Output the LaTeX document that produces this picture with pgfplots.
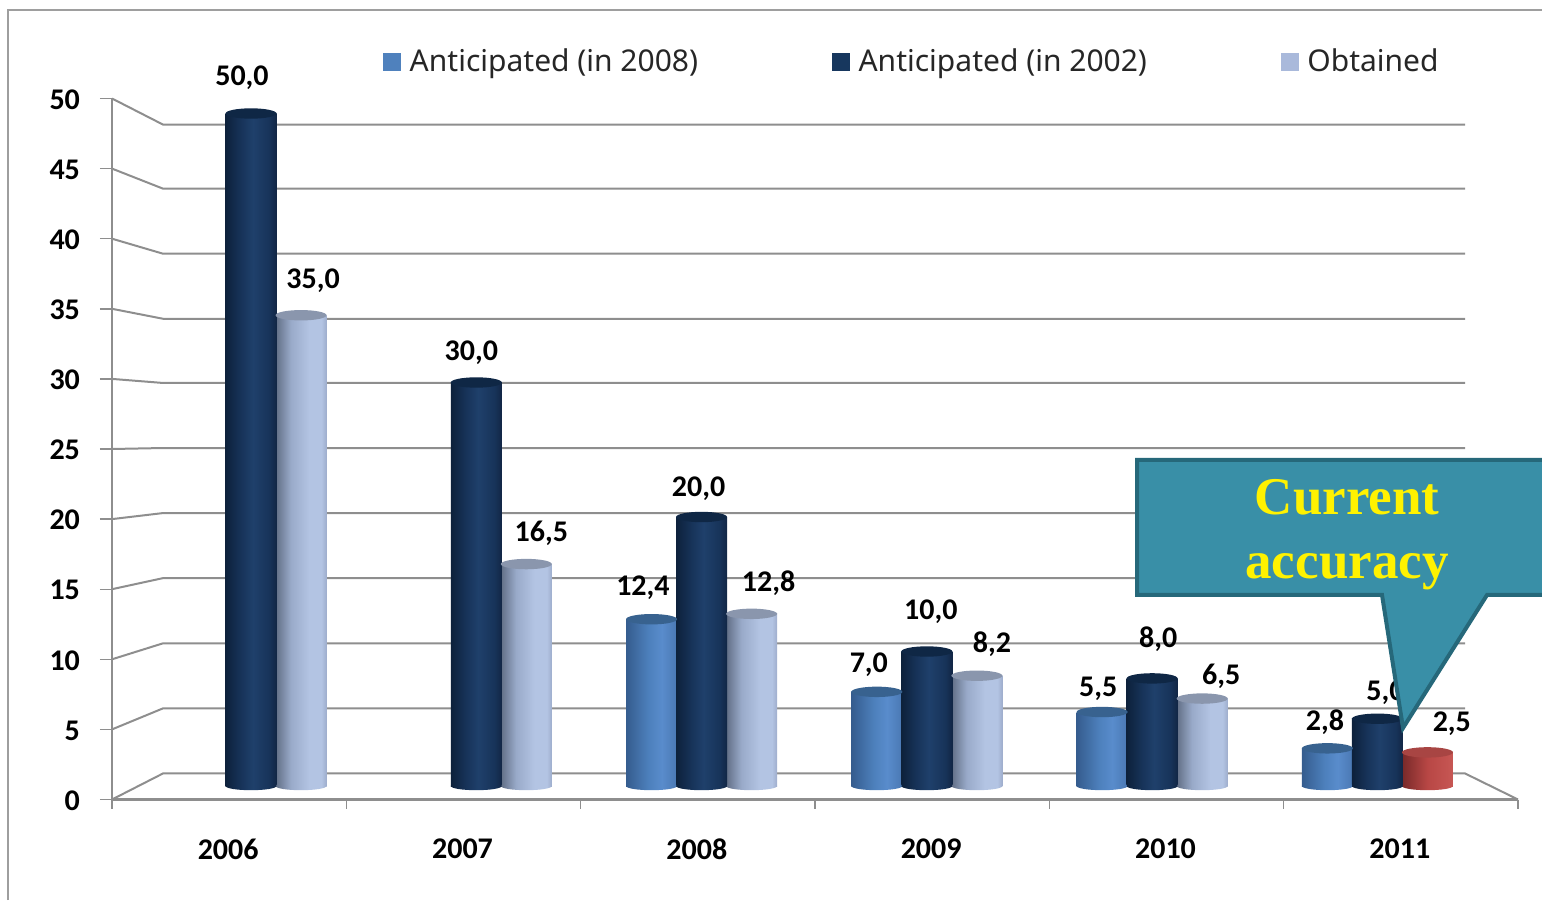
\documentclass[border=0pt]{standalone}
\usepackage{pgfplots}
\usepackage{pgfplotstable}
\usepackage{fontspec}
\pgfplotsset{compat=1.18}
\setmainfont{Carlito}
\newfontfamily\legfont{Noto Sans}
\newfontfamily\callfont{Liberation Serif}

\definecolor{gridc}{HTML}{8E8E8E}
\definecolor{legA}{HTML}{4F81BD}
\definecolor{legB}{HTML}{17375E}
\definecolor{legC}{HTML}{A9B9DB}

\definecolor{a1}{HTML}{355C8E}
\definecolor{a2}{HTML}{4D80BC}
\definecolor{a3}{HTML}{598CCC}
\definecolor{a4}{HTML}{4A78B3}
\definecolor{b1}{HTML}{0D213B}
\definecolor{b2}{HTML}{173359}
\definecolor{b3}{HTML}{1F406B}
\definecolor{b4}{HTML}{122645}
\definecolor{c1}{HTML}{616E85}
\definecolor{c2}{HTML}{99AAC9}
\definecolor{c3}{HTML}{B3C4E3}
\definecolor{c4}{HTML}{9EADCC}
\definecolor{r1}{HTML}{782929}
\definecolor{r2}{HTML}{B84745}
\definecolor{r3}{HTML}{C75754}

\pgfdeclarehorizontalshading{sA}{100bp}{color(0bp)=(a1); color(25bp)=(a1); color(47bp)=(a2); color(60bp)=(a3); color(75bp)=(a4); color(100bp)=(a4)}
\pgfdeclarehorizontalshading{sB}{100bp}{color(0bp)=(b1); color(25bp)=(b1); color(40bp)=(b2); color(52bp)=(b3); color(68bp)=(b2); color(75bp)=(b4); color(100bp)=(b4)}
\pgfdeclarehorizontalshading{sC}{100bp}{color(0bp)=(c1); color(25bp)=(c1); color(40bp)=(c2); color(58bp)=(c3); color(70bp)=(c3); color(75bp)=(c4); color(100bp)=(c4)}
\pgfdeclarehorizontalshading{sR}{100bp}{color(0bp)=(r1); color(25bp)=(r1); color(50bp)=(r2); color(75bp)=(r3); color(100bp)=(r3)}

\definecolor{capA}{HTML}{38628F}
\definecolor{capB}{HTML}{0F2745}
\definecolor{capC}{HTML}{8A96AD}
\definecolor{capR}{HTML}{A84543}

\newcommand\topcap[1]{\pgfsetfillcolor{#1}\pgfpathellipse{\pgfpointorigin}{\pgfqpoint{12.75pt}{0pt}}{\pgfqpoint{0pt}{2.6pt}}\pgfusepathqfill}
\pgfdeclareplotmark{topA}{\topcap{capA}}
\pgfdeclareplotmark{topB}{\topcap{capB}}
\pgfdeclareplotmark{topC}{\topcap{capC}}
\pgfdeclareplotmark{topR}{\topcap{capR}}
\pgfdeclareplotmark{botA}{\path[draw=none,shade,shading=sA] (0pt,0pt) ellipse (12.75pt and 2.1pt);}
\pgfdeclareplotmark{botB}{\path[draw=none,shade,shading=sB] (0pt,0pt) ellipse (12.75pt and 2.1pt);}
\pgfdeclareplotmark{botC}{\path[draw=none,shade,shading=sC] (0pt,0pt) ellipse (12.75pt and 2.1pt);}
\pgfdeclareplotmark{botR}{\path[draw=none,shade,shading=sR] (0pt,0pt) ellipse (12.75pt and 2.1pt);}

% x = group index + bar offset; v = value; base = foot of the bar; dx, dy = label offset (pt)
\pgfplotstableread{
x v base dx dy
1.778 12.4 0 -4.3 16
2.778 7.0 0 -4.0 13.5
3.778 5.5 0 -2.0 11.5
4.778 2.8 0 -1.2 12.9
}\tblA
\pgfplotstableread{
x v base dx dy
0 50.0 0 -4.5 17.7
1 30.0 0 -2.5 14.7
2 20.0 0 -1.5 14.0
3 10.0 0 2.0 19.7
4 8.0 0 3.0 19.5
5 5.0 0 4.0 13.0
}\tblB
\pgfplotstableread{
x v base dx dy
0.222 35.0 0 6.0 17.5
1.222 16.5 0 7.5 15.5
2.222 12.8 0 8.5 15.5
3.222 8.2 0 7.5 16
4.222 6.5 0 9.5 11
}\tblC
\pgfplotstableread{
x v base dx dy
5.222 2.5 0 12.2 14.5
}\tblR

\pgfplotsset{
  barstyle/.style n args={2}{
    ybar, bar width=25.5pt, bar shift=0pt, draw=none, shade, shading=#1,
    mark=#2, mark options={solid},
    point meta=y,
    visualization depends on={\thisrow{dx} \as \ldx},
    visualization depends on={\thisrow{dy} \as \ldy},
    nodes near coords,
    nodes near coords style={anchor=center, font=\fontsize{15}{15}\selectfont\bfseries,
      text=black, xshift=\ldx pt, yshift=\ldy pt, inner sep=0pt,
      /pgf/number format/.cd, use comma, fixed, fixed zerofill, precision=1, assume math mode=true},
  },
  footstyle/.style={only marks, mark=#1, forget plot},
}
% one cylinder (row #2 of table #1; #3 = next row; #4 = series letter): its shading spans its own width
\newcommand\onebar[4]{%
  \addplot[footstyle=bot#4, skip coords between index={0}{#2}, skip coords between index={#3}{99}] table[x=x,y=base] {#1};
  \addplot[barstyle={s#4}{top#4}, forget plot, skip coords between index={0}{#2}, skip coords between index={#3}{99}] table[x=x,y=v] {#1};
}

\begin{document}
\begin{tikzpicture}
\path[use as bounding box] (0,0) rectangle (771pt,450pt);
% outer frame
\draw[color=black!38, line width=1pt] (4pt,0) -- (4pt,445pt) -- (771pt,445pt);

% front axis, walls and floor
\begin{axis}[
  at={(56pt,50.25pt)}, anchor=south west, scale only axis,
  width=703pt, height=350.5pt,
  xmin=0, xmax=6, ymin=0, ymax=50,
  clip=false,
  axis lines=left, axis line style={-, draw=gridc, line width=1.2pt},
  ytick={0,5,...,50},
  xtick={0.5,1.5,2.5,3.5,4.5,5.5},
  xticklabels={2006,2007,2008,2009,2010,2011},
  minor xtick={0,1,2,3,4,5,6},
  major tick length=6pt, minor tick length=4.5pt,
  tick align=outside,
  major x tick style={draw=none},
  minor x tick style={draw=gridc, line width=.7pt},
  major y tick style={draw=gridc, line width=.7pt},
  /pgf/number format/assume math mode=true,
  ticklabel style={font=\fontsize{15}{15}\selectfont\bfseries, text=black},
  x tick label style={yshift=-10pt, xshift=-.5pt},
  y tick label style={xshift=-6.5pt, yshift=-.5pt},
]
\addplot[draw=gridc, line width=1pt, mark=none, unbounded coords=jump] coordinates {
 (0,0) (0.2176,1.857) (5.774,1.857) (6,0)
 (0,nan)
 (0,5) (0.2176,6.5) (5.774,6.5)
 (0,nan)
 (0,10) (0.2176,11.14) (5.774,11.14)
 (0,nan)
 (0,15) (0.2176,15.79) (5.774,15.79)
 (0,nan)
 (0,20) (0.2176,20.43) (5.774,20.43)
 (0,nan)
 (0,25) (0.2176,25.07) (5.774,25.07)
 (0,nan)
 (0,30) (0.2176,29.71) (5.774,29.71)
 (0,nan)
 (0,35) (0.2176,34.29) (5.774,34.29)
 (0,nan)
 (0,40) (0.2176,38.93) (5.774,38.93)
 (0,nan)
 (0,45) (0.2176,43.57) (5.774,43.57)
 (0,nan)
 (0,50) (0.2176,48.14) (5.774,48.14)
};
\end{axis}

% cylinders
\begin{axis}[
  at={(56pt,57pt)}, anchor=south west, scale only axis,
  width=703pt, height=336.25pt,
  xmin=-0.617, xmax=5.624, ymin=0, ymax=50,
  hide axis, clip=false,
  legend columns=3,
  legend style={draw=none, fill=none, inner sep=0pt, anchor=west, at={(0.1927,1.0766)},
    font=\legfont\fontsize{15}{15}\selectfont, text=black!85,
    /tikz/every even column/.append style={column sep=65pt}},
]
\addlegendimage{legend image code/.code={\fill[legA] (0pt,-4.25pt) rectangle (8.5pt,4.25pt); \path[draw=none] (0pt,0pt) -- (11pt,0pt);}}
\addlegendentry{Anticipated (in 2008)}
\addlegendimage{legend image code/.code={\fill[legB] (0pt,-4.25pt) rectangle (8.5pt,4.25pt); \path[draw=none] (0pt,0pt) -- (11pt,0pt);}}
\addlegendentry{Anticipated (in 2002)}
\addlegendimage{legend image code/.code={\fill[legC] (0pt,-4.25pt) rectangle (8.5pt,4.25pt); \path[draw=none] (0pt,0pt) -- (11pt,0pt);}}
\addlegendentry{Obtained}

\onebar{\tblA}{0}{1}{A}
\onebar{\tblA}{1}{2}{A}
\onebar{\tblA}{2}{3}{A}
\onebar{\tblA}{3}{4}{A}
\onebar{\tblC}{0}{1}{C}
\onebar{\tblC}{1}{2}{C}
\onebar{\tblC}{2}{3}{C}
\onebar{\tblC}{3}{4}{C}
\onebar{\tblC}{4}{5}{C}
\onebar{\tblR}{0}{1}{R}
\onebar{\tblB}{0}{1}{B}
\onebar{\tblB}{1}{2}{B}
\onebar{\tblB}{2}{3}{B}
\onebar{\tblB}{3}{4}{B}
\onebar{\tblB}{4}{5}{B}
\onebar{\tblB}{5}{6}{B}
\end{axis}

% callout
\begin{scope}[x=0.5pt,y=-0.5pt,yshift=450pt]
\draw[fill={rgb,255:red,57;green,143;blue,167}, draw={rgb,255:red,38;green,104;blue,122}, line width=2pt, line join=miter]
 (1137,460) -- (1560,460) -- (1560,595) -- (1487,595) -- (1403,728) -- (1382,595) -- (1137,595) -- cycle;
\node[text=yellow, font=\callfont\bfseries\fontsize{26.5}{27}\selectfont] at (1347,497) {Current};
\node[text=yellow, font=\callfont\bfseries\fontsize{26.5}{27}\selectfont] at (1347,572) {accuracy};
\end{scope}
\end{tikzpicture}
\end{document}
